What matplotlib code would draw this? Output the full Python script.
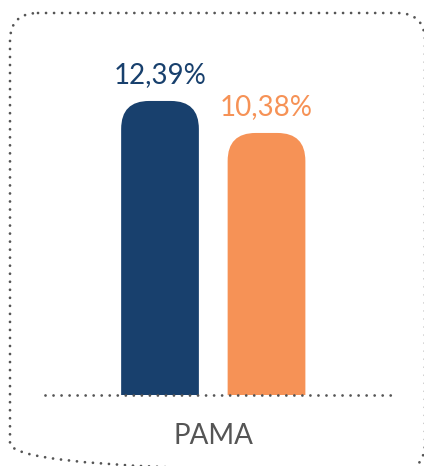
import matplotlib.pyplot as plt
from matplotlib.patches import FancyBboxPatch

categories = ['PAMA']
series_names = ['A', 'B']
values = [12.39, 10.38]
labels = ['12,39%', '10,38%']
colors = ['#18406d', '#f69256']

plt.rcParams['font.family'] = ['Lato', 'DejaVu Sans']

fig = plt.figure(figsize=(4.24, 4.66), dpi=100)

# frame axes in pixel coords for the dotted rounded border
bg = fig.add_axes([0, 0, 1, 1])
bg.set_xlim(0, 424)
bg.set_ylim(466, 0)
bg.axis('off')
dot = (0, (0.01, 2.88))
border = FancyBboxPatch((10, 13), 415, 458, boxstyle='round,pad=0,rounding_size=28',
                        fill=False, edgecolor='#555555', linewidth=2,
                        linestyle=dot, capstyle='round')
bg.add_patch(border)

# main axes: bottom edge on the baseline
ax = fig.add_axes([45 / 424, 71 / 466, 346 / 424, 382 / 466])
ax.axis('off')
base = -6.08
ax.set_ylim(base, base + 382 / 15.92)
ax.set_xlim(-1.58, 1.669)

offsets = [-0.5, 0.5]
width = 0.73
r = 28 / 106.5
aspect = 106.5 / 15.92
for off, v, lab, c in zip(offsets, values, labels, colors):
    x0 = off - width / 2
    patch = FancyBboxPatch((x0, base - 5), width, v - base + 5,
                           boxstyle=f'round,pad=0,rounding_size={r}',
                           mutation_aspect=aspect, facecolor=c, edgecolor='none',
                           clip_on=True)
    ax.add_patch(patch)
    ax.text(off, v + 1.65, lab, ha='center', va='center', fontsize=20, color=c)

ax.plot([-1.58, 1.669], [base, base], color='#555555', linewidth=2,
        linestyle=dot, dash_capstyle='round', clip_on=False)
ax.text(0, base - 41 / 15.92, categories[0], ha='center', va='center',
        fontsize=20, color='#555555')

fig.savefig('out.png', dpi=100)
